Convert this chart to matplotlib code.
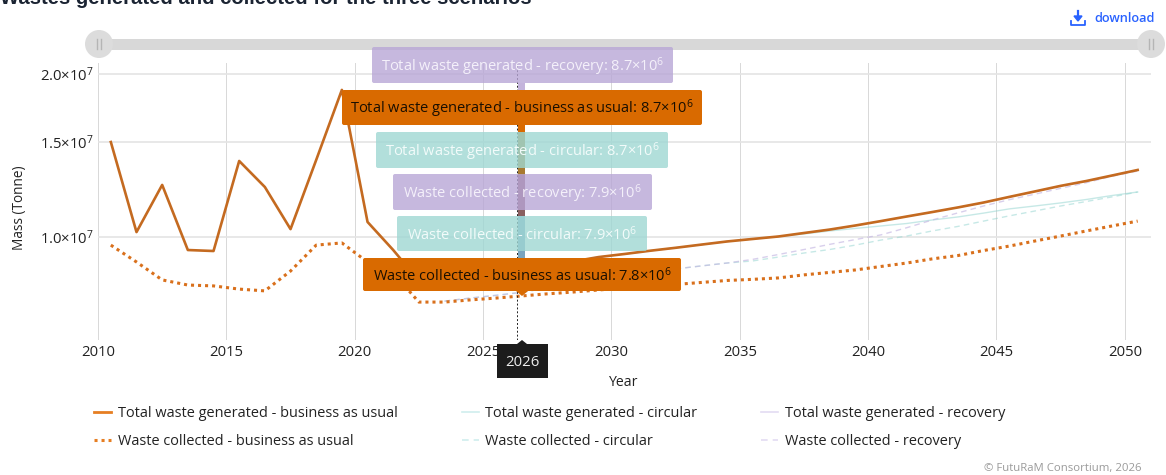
import matplotlib
matplotlib.use('Agg')
import matplotlib.pyplot as plt
from matplotlib.lines import Line2D
from matplotlib.patches import FancyBboxPatch, Rectangle, Circle, Polygon

plt.rcParams['font.family'] = ['Open Sans', 'DejaVu Sans']
plt.rcParams['mathtext.default'] = 'regular'

# Values in million tonnes
years = list(range(2010, 2051))
scenario_years = list(range(2023, 2051))

generated_bau = [14.98, 10.21, 12.48, 9.46, 9.42, 13.82, 12.37, 10.34, 13.88, 18.7, 10.66, 9.46, 8.30,
                 8.40, 8.51, 8.62, 8.69, 8.84, 9.01, 9.18, 9.30, 9.43, 9.55, 9.68, 9.81, 9.915, 10.02,
                 10.17, 10.32, 10.50, 10.70, 10.91, 11.12, 11.34, 11.58, 11.86, 12.14, 12.43, 12.69, 12.99, 13.30]
collected_bau = [9.66, 8.99, 8.33, 8.15, 8.12, 8.01, 7.95, 8.65, 9.66, 9.75, 8.99, 8.58, 7.58,
                 7.58, 7.65, 7.71, 7.78, 7.85, 7.91, 7.98, 8.05, 8.12, 8.17, 8.24, 8.31, 8.35, 8.40,
                 8.51, 8.60, 8.69, 8.82, 8.95, 9.11, 9.24, 9.44, 9.62, 9.83, 10.04, 10.26, 10.48, 10.70]
generated_circular = [8.40, 8.51, 8.62, 8.69, 8.84, 9.01, 9.18, 9.30, 9.43, 9.55, 9.68, 9.81, 9.915, 10.02,
                      10.13, 10.26, 10.37, 10.48, 10.59, 10.75, 10.89, 11.07, 11.27, 11.41, 11.56, 11.73, 11.93, 12.11]
collected_circular = [7.61, 7.71, 7.80, 7.90, 8.05, 8.19, 8.33, 8.44, 8.58, 8.73, 8.84, 8.95, 9.03, 9.18,
                      9.34, 9.48, 9.66, 9.87, 10.04, 10.26, 10.46, 10.70, 10.94, 11.17, 11.41, 11.63, 11.86, 12.11]
generated_recovery = [8.40, 8.51, 8.62, 8.69, 8.84, 9.01, 9.18, 9.30, 9.43, 9.55, 9.68, 9.81, 9.915, 10.02,
                      10.17, 10.32, 10.50, 10.70, 10.91, 11.12, 11.34, 11.58, 11.86, 12.14, 12.43, 12.69, 12.99, 13.28]
collected_recovery = [7.61, 7.71, 7.80, 7.90, 8.05, 8.19, 8.33, 8.44, 8.58, 8.73, 8.84, 8.95, 9.09, 9.28,
                      9.48, 9.69, 9.89, 10.09, 10.40, 10.75, 11.08, 11.41, 11.72, 12.00, 12.30, 12.60, 12.95, 13.24]

y_ticks = [1e7, 1.5e7, 2e7]
y_tick_labels = [r'$1.0{\times}10^{7}$', r'$1.5{\times}10^{7}$', r'$2.0{\times}10^{7}$']
x_ticks = list(range(2010, 2051, 5))
hover_year = 2026

tooltips = [
    ('Total waste generated - recovery: ', r'$8.7{\times}10^{6}$', 'purple'),
    ('Total waste generated - business as usual: ', r'$8.7{\times}10^{6}$', 'orange'),
    ('Total waste generated - circular: ', r'$8.7{\times}10^{6}$', 'teal'),
    ('Waste collected - recovery: ', r'$7.9{\times}10^{6}$', 'purple'),
    ('Waste collected - circular: ', r'$7.9{\times}10^{6}$', 'teal'),
    ('Waste collected - business as usual: ', r'$7.8{\times}10^{6}$', 'orange'),
]
tip_boxes = [(372, 673, 47, 83), (342, 702, 90, 125), (376, 668, 132, 168),
             (393, 652, 174, 210), (397, 647, 216, 251), (363, 681, 258, 291)]

ORANGE_LINE = '#c46a20'
ORANGE_KEY = '#e67e22'
TEAL = '#8fd3ce'
PURPLE = '#c4b6e2'
DOTTED = (0, (1, 1.3))
DASHED = (0, (4, 3))

fig = plt.figure(figsize=(11.66, 4.75), dpi=100)
ax = fig.add_axes([98 / 1166, (475 - 340) / 475, 1053 / 1166, 277 / 475])

x = [y + 0.5 for y in years]
xs = [y + 0.5 for y in scenario_years]
mt = lambda vals: [v * 1e6 for v in vals]

ax.plot(xs, mt(generated_circular), color=TEAL, lw=1.0, alpha=0.5)
ax.plot(xs, mt(collected_circular), color=TEAL, lw=1.0, alpha=0.5, linestyle=DASHED)
ax.plot(xs, mt(generated_recovery), color=PURPLE, lw=1.0, alpha=0.5)
ax.plot(xs, mt(collected_recovery), color=PURPLE, lw=1.0, alpha=0.65, linestyle=DASHED)
ax.plot(x, mt(generated_bau), color=ORANGE_LINE, lw=1.9)
ax.plot(x, mt(collected_bau), color='#d9701c', lw=2.2, linestyle=DOTTED, dash_capstyle='butt')

ax.set_yscale('log')
ax.set_xlim(2010, 2051.02)
ax.set_ylim(6.45e6, 2.097e7)
ax.set_xticks(x_ticks)
ax.set_yticks(y_ticks)
ax.set_yticklabels(y_tick_labels)
ax.minorticks_off()
ax.tick_params(length=0, labelsize=10.7, labelcolor='#222222')
ax.tick_params(axis='x', pad=3.5)
ax.tick_params(axis='y', pad=3)
ax.grid(axis='x', color='#d8d8d8', lw=0.7)
ax.grid(axis='y', color='#e4e4e4', lw=1.2)
ax.set_axisbelow(True)
for s in ax.spines.values():
    s.set_visible(False)

ax.axvline(hover_year + 0.33, color='#222222', lw=0.7, linestyle=(0, (2, 2)), zorder=5)

handles = [
    Line2D([], [], color=ORANGE_KEY, lw=2.0),
    Line2D([], [], color=ORANGE_KEY, lw=2.2, linestyle=DOTTED, dash_capstyle='butt'),
    Line2D([], [], color='#cfeeed', lw=1.2),
    Line2D([], [], color='#cfeeed', lw=1.2, linestyle=DASHED),
    Line2D([], [], color='#e3dcf2', lw=1.2),
    Line2D([], [], color='#e3dcf2', lw=1.2, linestyle=DASHED),
]
labels = ['Total waste generated - business as usual', 'Waste collected - business as usual',
          'Total waste generated - circular', 'Waste collected - circular',
          'Total waste generated - recovery', 'Waste collected - recovery']
fig.legend(handles, labels, ncol=3, loc='upper left', bbox_to_anchor=(94 / 1166, (475 - 406) / 475),
           frameon=False, fontsize=10.45, borderpad=0, borderaxespad=0, handlelength=1.17,
           handletextpad=0.45, columnspacing=4.42, labelspacing=0.9, labelcolor='#222222')

ax.set_xlabel('')
ax.set_ylabel('')

# Page furniture and hover tooltips, in pixels of the screenshot
over = fig.add_axes([0, 0, 1, 1], facecolor='none')
over.set_xlim(0, 1166)
over.set_ylim(475, 0)
over.axis('off')

over.text(0, 4, 'Wastes generated and collected for the three scenarios', fontsize=14.6, fontweight='bold',
          family='Liberation Sans', color='#1b2433', va='baseline', ha='left')
over.text(1155, 19, 'download', fontsize=9.2, fontweight='semibold', color='#2962ff', ha='right', va='center')
over.plot([1078, 1078], [11, 19], color='#2962ff', lw=1.6)
over.add_patch(Polygon([[1074, 16], [1082, 16], [1078, 21]], color='#2962ff'))
over.plot([1071, 1071, 1085, 1085], [21, 25, 25, 21], color='#2962ff', lw=1.3)

over.add_patch(Rectangle((100, 39), 1051, 11, color='#d8d8d8', lw=0))
for cx in (99, 1151):
    over.add_patch(Circle((cx, 44), 14, color='#dcdcdc', lw=0, zorder=3))
    over.plot([cx - 2, cx - 2], [39, 49], color='#b5b5b5', lw=1, zorder=4)
    over.plot([cx + 2, cx + 2], [39, 49], color='#b5b5b5', lw=1, zorder=4)

over.text(20, 208, 'Mass (Tonne)', rotation=90, fontsize=9.8, color='#222222', ha='center', va='center')
over.text(624, 382.5, 'Year', fontsize=10.2, color='#222222', ha='center', va='center')
over.text(1141, 468, '© FutuRaM Consortium, 2026', fontsize=8.2, color='#9a9a9a', ha='right', va='center')

# stems between the tooltips
for top, bottom, col in [(83, 90, '#c4b4dc'), (125, 132, '#d96a00'), (132, 175, '#a87a30'),
                         (175, 216, '#8a6060'), (216, 258, '#7aa5c0')]:
    over.add_patch(Rectangle((518, top), 7, bottom - top, color=col, lw=0, zorder=4))

tip_style = {
    'purple': dict(face='#b8a6d6', alpha=0.8, text='#f4f0fa'),
    'teal': dict(face='#9fd7d3', alpha=0.8, text='#f2fbfa'),
    'orange': dict(face='#d96a00', alpha=1.0, text='#1a0f00'),
}
for (label, val, kind), (x0, x1, y0, y1) in zip(tooltips, tip_boxes):
    st = tip_style[kind]
    over.add_patch(FancyBboxPatch((x0, y0), x1 - x0, y1 - y0, boxstyle='round,pad=0,rounding_size=2',
                                  facecolor=st['face'], edgecolor='none', alpha=st['alpha'], zorder=5))
    over.text((x0 + x1) / 2, (y0 + y1) / 2 + 1.5, label + val, fontsize=10.55, color=st['text'],
              ha='center', va='center', zorder=6)
over.add_patch(Polygon([[516, 291], [528, 291], [522, 296]], color='#d96a00', lw=0, zorder=5))

over.add_patch(Rectangle((497, 344), 51, 34, color='#1c1c1c', lw=0, zorder=5))
over.add_patch(Polygon([[517, 344], [527, 344], [522, 340]], color='#1c1c1c', lw=0, zorder=5))
over.text(522, 362, str(hover_year), fontsize=10.7, color='#eeeeee', ha='center', va='center', zorder=6)

fig.savefig('out.png', dpi=100)
